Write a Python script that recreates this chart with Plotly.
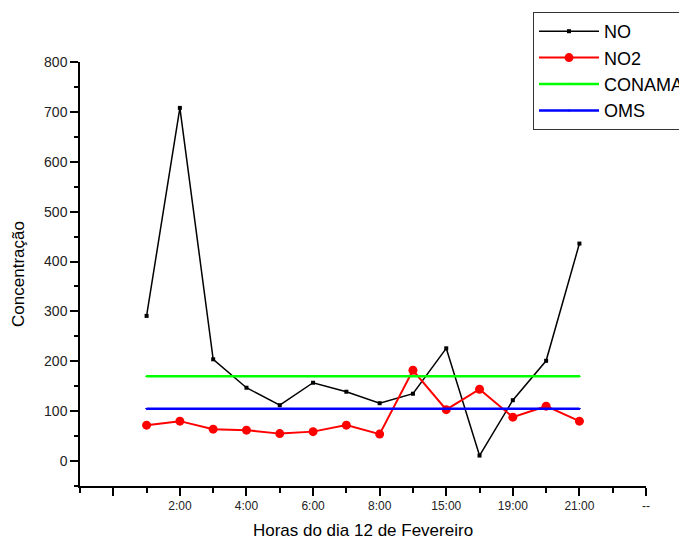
import plotly.graph_objects as go

x_pos = list(range(1, 15))
no_vals = [291, 708, 204, 147, 112, 157, 139, 116, 135, 226, 11, 122, 201, 436]
no2_vals = [72, 80, 64, 62, 55, 59, 72, 54, 182, 103, 144, 88, 110, 80]
conama_vals = [170] * 14
oms_vals = [105] * 14

x_tickvals = [0, 2, 4, 6, 8, 10, 12, 14, 16]
x_ticktext = ["", "2:00", "4:00", "6:00", "8:00", "15:00", "19:00", "21:00", "--"]
x_minor_vals = [-1, 1, 3, 5, 7, 9, 11, 13, 15]

font_family = "Arial, Liberation Sans, sans-serif"

fig = go.Figure()
fig.add_trace(go.Scatter(x=x_pos, y=no_vals, name="NO", mode="lines+markers",
                         line=dict(color="black", width=1.5),
                         marker=dict(symbol="square", size=4, color="black")))
fig.add_trace(go.Scatter(x=x_pos, y=no2_vals, name="NO2", mode="lines+markers",
                         line=dict(color="red", width=2),
                         marker=dict(symbol="circle", size=9, color="red")))
fig.add_trace(go.Scatter(x=x_pos, y=conama_vals, name="CONAMA", mode="lines+markers",
                         line=dict(color="#00ff00", width=2.5),
                         marker=dict(symbol="triangle-up", size=3, color="#00ff00")))
fig.add_trace(go.Scatter(x=x_pos, y=oms_vals, name="OMS", mode="lines+markers",
                         line=dict(color="blue", width=2.5),
                         marker=dict(symbol="triangle-down", size=3, color="blue")))

# page body has an 8px margin; plot area target in viewport: x 80..646, y 62..486
off = 8
plot_l, plot_r, plot_t, plot_b = 80 - off, 646 - off, 62 - off, 486 - off
W, H = 687, 541
leg_x = (533 - off - plot_l) / (plot_r - plot_l)
leg_y = (plot_b - (12 - off)) / (plot_b - plot_t)

fig.update_layout(
    width=W, height=H,
    margin=dict(l=plot_l, r=W - plot_r, t=plot_t, b=H - plot_b, autoexpand=False),
    paper_bgcolor="white", plot_bgcolor="white",
    font=dict(family=font_family, color="black"),
    showlegend=True,
    legend=dict(x=leg_x, y=leg_y, xanchor="left", yanchor="top",
                bordercolor="#333", borderwidth=1, bgcolor="white",
                font=dict(size=18, family=font_family, color="black"),
                tracegroupgap=0, itemwidth=60),
)

fig.update_xaxes(
    range=[-1, 16], showgrid=False, zeroline=False,
    showline=True, linecolor="black", linewidth=1.5,
    tickmode="array", tickvals=x_tickvals, ticktext=x_ticktext,
    ticks="outside", ticklen=8, tickwidth=1.5, tickcolor="black",
    tickfont=dict(size=12, color="#222"),
    minor=dict(tickmode="array", tickvals=x_minor_vals, ticks="outside", ticklen=5,
               tickwidth=1.5, tickcolor="black", showgrid=False),
    title=dict(text="Horas do dia 12 de Fevereiro", font=dict(size=17), standoff=12),
)
fig.update_yaxes(
    range=[-50, 800], showgrid=False, zeroline=False,
    showline=True, linecolor="black", linewidth=1.5,
    tickmode="linear", tick0=0, dtick=100,
    ticks="outside", ticklen=8, tickwidth=1.5, tickcolor="black",
    tickfont=dict(size=14, color="#222"),
    minor=dict(tickmode="linear", tick0=50, dtick=100, ticks="outside", ticklen=4,
               tickwidth=1.5, tickcolor="black", showgrid=False),
    title=dict(text="Concentração", font=dict(size=17), standoff=15),
)

fig.write_html("out.html")
